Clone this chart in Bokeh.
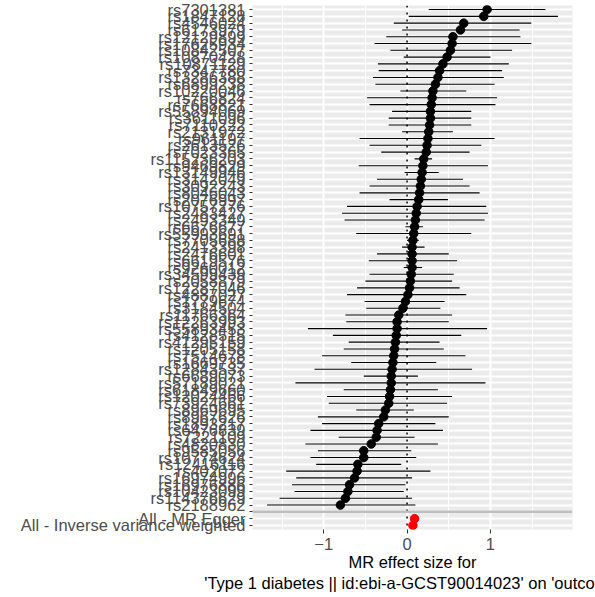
from bokeh.plotting import figure
from bokeh.models import ColumnDataSource, FixedTicker, Span, Range1d
from bokeh.embed import file_html
from bokeh.resources import INLINE

# SNPs listed from top to bottom of the chart
snps = [
    "rs7301381", "rs1847128", "rs4546024", "rs6173979", "rs12129899", "rs17625934",
    "rs10842507", "rs10870428", "rs10871129", "rs7347780", "rs13286388", "rs6899238",
    "rs10220046", "rs766824", "rs7668821", "rs55894069", "rs3611096", "rs7110222",
    "rs2131972", "rs961197", "rs2613526", "rs7023365", "rs115236203", "rs9469829",
    "rs13149946", "rs3142049", "rs3092243", "rs8046043", "rs2076997", "rs10757276",
    "rs2483427", "rs2493349", "rs6676677", "rs55993691", "rs7705688", "rs2413398",
    "rs2476601", "rs6619576", "rs9260012", "rs34599439", "rs2058879", "rs12287046",
    "rs4887027", "rs1779674", "rs3184504", "rs11766364", "rs12263993", "rs55893453",
    "rs4128515", "rs41295159", "rs1205158", "rs7514678", "rs1669735", "rs12843537",
    "rs6689073", "rs57189021", "rs61849660", "rs12024466", "rs73924661", "rs8969695",
    "rs8967626", "rs1893217", "rs6476839", "rs7221109", "rs4820830", "rs9585056",
    "rs10774624", "rs12416116", "rs402072", "rs16974996", "rs16976886", "rs10423099",
    "rs114376629", "rs2188962",
]
snp_b = [
    0.96, 0.92, 0.68, 0.64, 0.55, 0.54, 0.52, 0.48, 0.43, 0.39, 0.37, 0.34,
    0.31, 0.30, 0.29, 0.28, 0.28, 0.27, 0.26, 0.25, 0.24, 0.23, 0.20, 0.19,
    0.18, 0.17, 0.16, 0.15, 0.14, 0.12, 0.11, 0.10, 0.09, 0.08, 0.07, 0.06,
    0.06, 0.06, 0.06, 0.05, 0.04, 0.03, 0.01, -0.02, -0.05, -0.10, -0.12, -0.12,
    -0.13, -0.14, -0.15, -0.16, -0.17, -0.18, -0.19, -0.19, -0.20, -0.21, -0.22, -0.26,
    -0.28, -0.34, -0.36, -0.37, -0.43, -0.52, -0.52, -0.59, -0.60, -0.63, -0.69, -0.71,
    -0.74, -0.80,
]
snp_lo = [
    0.26, 0.02, -0.16, -0.06, -0.25, -0.39, -0.20, -0.04, -0.35, -0.34, -0.41, -0.38,
    -0.08, -0.48, -0.45, -0.18, -0.22, -0.22, -0.06, -0.57, -0.45, -0.31, 0.09, -0.58,
    -0.03, -0.36, -0.45, -0.57, -0.21, -0.72, -0.78, -0.75, -0.02, -0.61, 0.00, -0.06,
    -0.36, -0.46, -0.04, -0.45, -0.50, -0.60, -0.72, -0.51, -0.49, -0.74, -0.73, -1.19,
    -0.89, -0.70, -0.76, -1.02, -0.67, -1.11, -0.52, -1.34, -0.76, -0.96, -0.94, -0.61,
    -1.07, -1.02, -1.16, -0.82, -1.22, -1.07, -1.16, -1.09, -1.45, -1.33, -1.38, -1.35,
    -1.53, -1.68,
]
snp_hi = [
    1.66, 1.81, 1.49, 1.35, 1.36, 1.49, 1.26, 1.00, 1.22, 1.14, 1.16, 1.05,
    0.71, 1.08, 1.06, 0.77, 0.77, 0.77, 0.55, 1.05, 0.89, 0.75, 0.30, 0.97,
    0.38, 0.67, 0.75, 0.87, 0.49, 0.95, 0.97, 0.93, 0.19, 0.77, 0.14, 0.21,
    0.50, 0.60, 0.18, 0.56, 0.54, 0.63, 0.71, 0.45, 0.40, 0.54, 0.50, 0.96,
    0.65, 0.39, 0.44, 0.70, 0.35, 0.78, 0.13, 0.94, 0.37, 0.54, 0.48, 0.08,
    0.50, 0.34, 0.43, 0.09, 0.37, 0.05, 0.11, -0.07, 0.28, 0.06, -0.02, -0.04,
    0.06, 0.10,
]

methods = ["All - MR Egger", "All - Inverse variance weighted"]
method_b = [0.09, 0.07]
method_lo = [0.05, 0.04]
method_hi = [0.13, 0.10]

x_ticks = [-1, 0, 1]
x_minor = [-1.5, -0.5, 0.5, 1.5]
x_title = "MR effect size for\n'Type 1 diabetes || id:ebi-a-GCST90014023' on 'outcome'"

# rows top-to-bottom: SNPs, blank separator, methods
row_labels = snps + [""] + methods
n_rows = len(row_labels)
row_y = [n_rows - i for i in range(n_rows)]
snp_y = row_y[:len(snps)]
blank_y = row_y[len(snps)]
method_y = row_y[len(snps) + 1:]

FONT = "Liberation Sans"
FS = "16.5px"

all_lo = snp_lo + method_lo
all_hi = snp_hi + method_hi
span_x = max(all_hi) - min(all_lo)

p = figure(
    width=595, height=597,
    output_backend="svg", toolbar_location=None,
    x_range=Range1d(min(all_lo) - 0.05 * span_x, max(all_hi) + 0.05 * span_x),
    y_range=Range1d(0.4, n_rows + 0.6),
    min_border_left=252, min_border_right=23, min_border_top=5, min_border_bottom=68,
)
p.background_fill_color = "#EBEBEB"
p.border_fill_color = "white"
p.outline_line_color = None

# grids
p.xaxis.ticker = FixedTicker(ticks=x_ticks, minor_ticks=x_minor)
p.yaxis.ticker = FixedTicker(ticks=row_y)
p.xgrid.grid_line_color = "white"
p.xgrid.grid_line_width = 2
p.xgrid.minor_grid_line_color = "white"
p.xgrid.minor_grid_line_width = 1
p.ygrid.grid_line_color = "white"
p.ygrid.grid_line_width = 2

# axes
for ax in (p.xaxis[0], p.yaxis[0]):
    ax.axis_line_color = None
    ax.major_tick_in = 0
    ax.minor_tick_in = 0
    ax.minor_tick_out = 0
    ax.major_tick_line_color = "#333333"
    ax.major_label_text_font = FONT
    ax.major_label_text_font_size = FS
    ax.major_label_text_color = "#4D4D4D"

p.xaxis.major_tick_out = 4
p.xaxis.major_label_standoff = 4
p.xaxis.axis_label = x_title
p.xaxis.axis_label_text_font = FONT
p.xaxis.axis_label_text_font_size = FS
p.xaxis.axis_label_text_font_style = "normal"
p.xaxis.axis_label_text_color = "black"
p.xaxis.axis_label_standoff = 0

p.yaxis.major_tick_out = 3
p.yaxis.major_label_standoff = 4
p.yaxis.major_label_overrides = {y: lab for y, lab in zip(row_y, row_labels)}

# zero reference and separator
p.add_layout(Span(location=0, dimension="height", line_color="black",
                  line_width=1.5, line_dash="2 5", level="underlay"))
p.add_layout(Span(location=blank_y, dimension="width", line_color="#BEBEBE",
                  line_width=2.5, level="underlay"))

snp_src = ColumnDataSource(dict(y=snp_y, b=snp_b, lo=snp_lo, hi=snp_hi))
met_src = ColumnDataSource(dict(y=method_y, b=method_b, lo=method_lo, hi=method_hi))

p.segment(x0="lo", y0="y", x1="hi", y1="y", source=snp_src, line_color="black", line_width=1.1)
p.scatter(x="b", y="y", source=snp_src, size=8.5, color="black")
p.segment(x0="lo", y0="y", x1="hi", y1="y", source=met_src, line_color="black", line_width=1.1)
p.scatter(x="b", y="y", source=met_src, size=8.5, color="red")

open("out.html", "w").write(file_html(p, INLINE))
